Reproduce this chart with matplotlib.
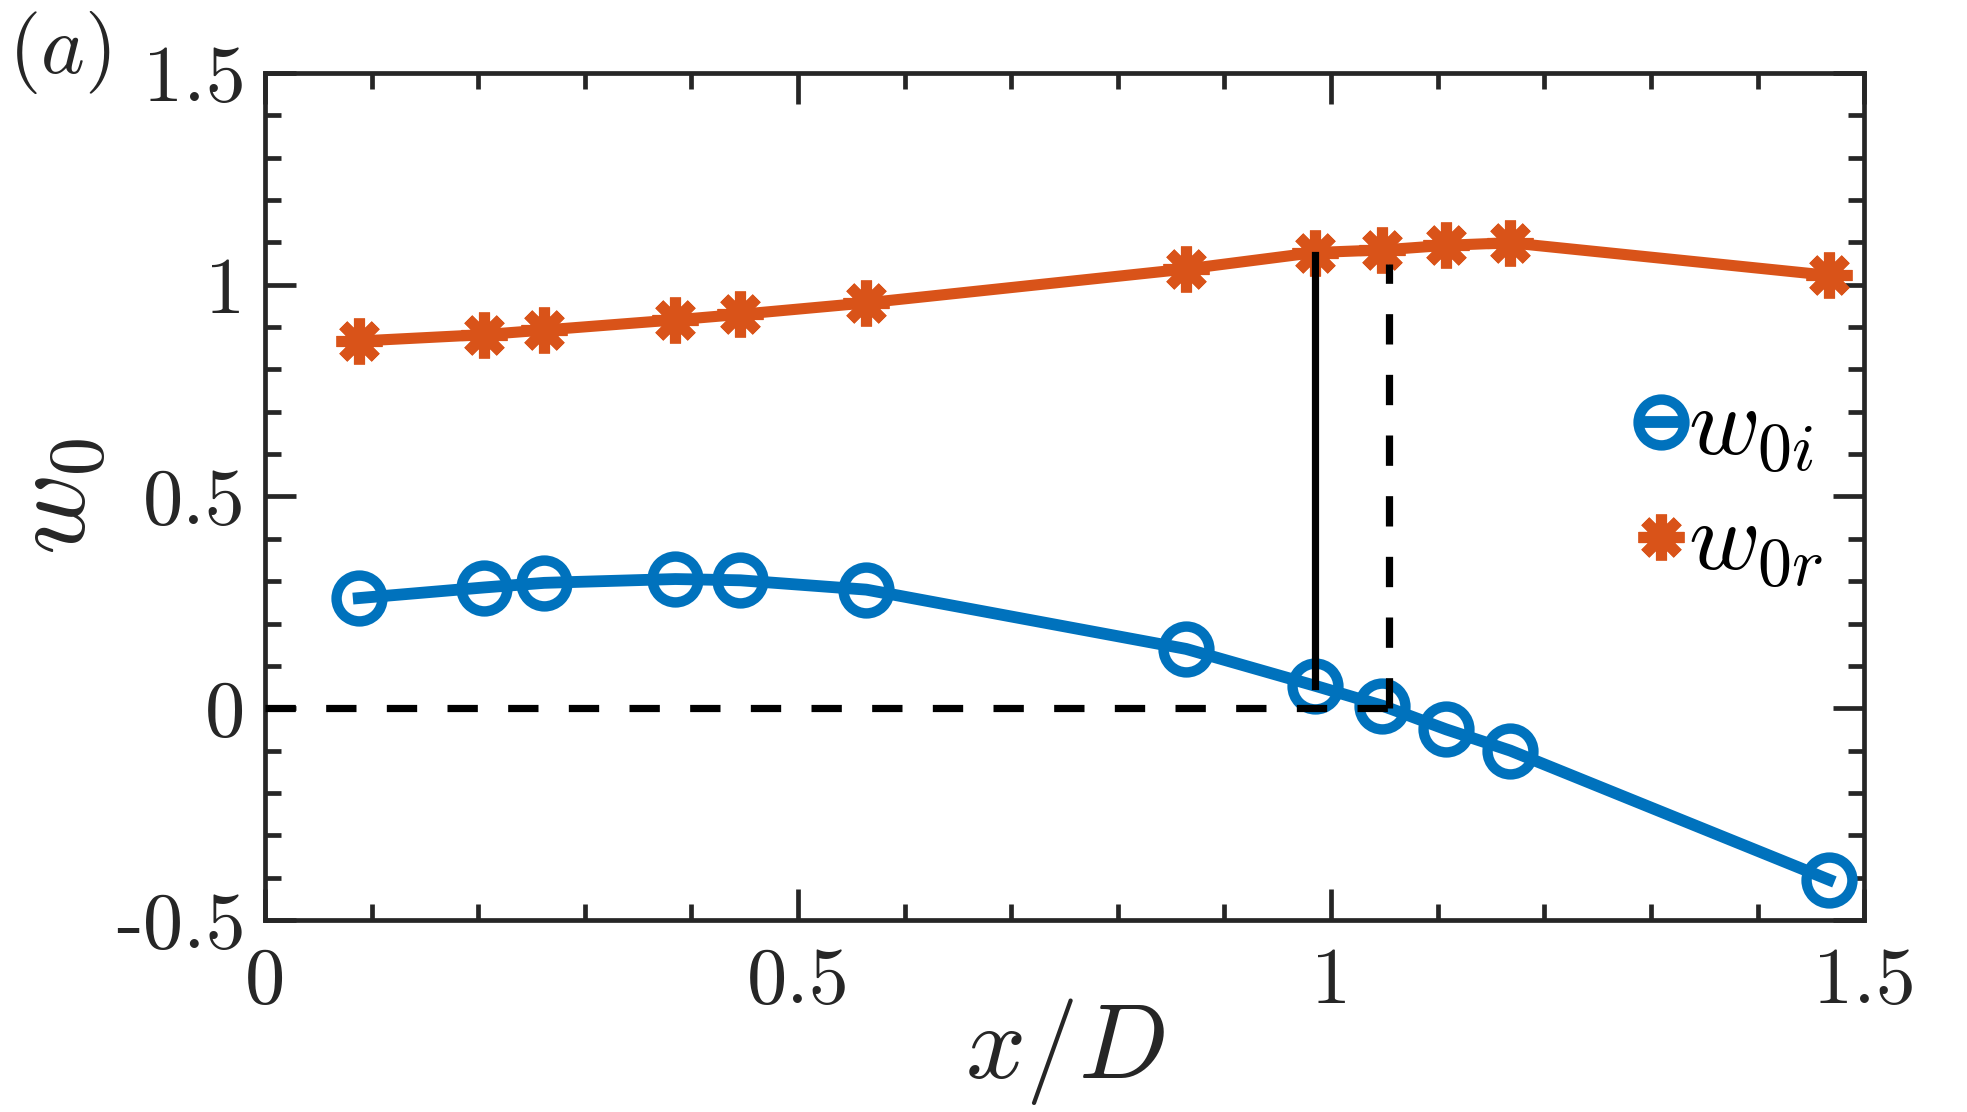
import matplotlib
matplotlib.use('Agg')
import matplotlib.pyplot as plt
from matplotlib.ticker import MultipleLocator, FuncFormatter

plt.rcParams['mathtext.fontset'] = 'cm'
plt.rcParams['axes.unicode_minus'] = False

# ---- data ----
x_D = [0.088, 0.205, 0.262, 0.385, 0.446, 0.564, 0.864, 0.985, 1.048, 1.108, 1.168, 1.467]
w0i = [0.260, 0.285, 0.296, 0.305, 0.302, 0.280, 0.140, 0.053, 0.006, -0.050, -0.100, -0.405]
w0r = [0.867, 0.882, 0.893, 0.917, 0.930, 0.957, 1.037, 1.076, 1.082, 1.093, 1.099, 1.022]

# marker lines
x_solid = 0.985
y_solid = [0.053, 1.070]
x_dash = 1.054
y_dash = [0.0, 1.048]

blue = '#0072BD'
orange = '#D95319'
axc = '#262626'

fig = plt.figure(figsize=(19.67, 11.12), dpi=100)
ax = fig.add_axes([0.1347, 0.1727, 0.8130, 0.7617])

ax.plot(x_D, w0i, '-', color=blue, lw=8.5, marker='o', ms=33, mew=7.5,
        mfc='none', mec=blue, label=r'$w_{0i}$', zorder=3)
ax.plot(x_D, w0r, '-', color=orange, lw=8, marker=(8, 2, 0), ms=33, mew=8,
        mec=orange, label=r'$w_{0r}$', zorder=3)

# threshold lines
ax.plot([x_solid, x_solid], y_solid, '-', color='k', lw=5.2, zorder=4)
ax.plot([x_dash, x_dash], y_dash, color='k', lw=5.2, ls=(0, (4.2, 4.2)), zorder=4)
ax.plot([0, x_dash], [0, 0], color='k', lw=5.2, ls=(0, (4.2, 4.2)), zorder=4)

ax.set_xlim(0, 1.5)
ax.set_ylim(-0.5, 1.5)
ax.xaxis.set_major_locator(MultipleLocator(0.5))
ax.xaxis.set_minor_locator(MultipleLocator(0.1))
ax.yaxis.set_major_locator(MultipleLocator(0.5))
ax.yaxis.set_minor_locator(MultipleLocator(0.1))
fmt = FuncFormatter(lambda v, p: f'{v:g}')
ax.xaxis.set_major_formatter(fmt)
ax.yaxis.set_major_formatter(fmt)

ax.tick_params(which='both', direction='in', top=True, right=True,
               color=axc, width=3.4, labelcolor=axc)
ax.tick_params(which='major', length=22)
ax.tick_params(which='minor', length=11.5)
ax.tick_params(axis='x', pad=20)
ax.tick_params(axis='y', pad=14)
for lab in ax.get_xticklabels() + ax.get_yticklabels():
    lab.set_fontfamily('cmr10')
    lab.set_fontsize(58)
for s in ax.spines.values():
    s.set_linewidth(3.4)
    s.set_color(axc)

ax.set_xlabel(r'$x/D$', fontsize=76, color=axc)
ax.set_ylabel(r'$w_0$', fontsize=80, color=axc, va='center')
ax.xaxis.set_label_coords(0.5, -0.09)
ax.yaxis.set_label_coords(-0.131, 0.5)

ax.legend(loc='center left', bbox_to_anchor=(0.836, 0.562),
          bbox_transform=fig.transFigure, frameon=False, fontsize=70,
          handlelength=0.35, handletextpad=0.1, borderpad=0, borderaxespad=0,
          labelspacing=0.22)

fig.text(0.030, 0.953, r'$(a)$', fontsize=60, ha='center', va='center', color=axc)

fig.savefig('out.png', dpi=100)
